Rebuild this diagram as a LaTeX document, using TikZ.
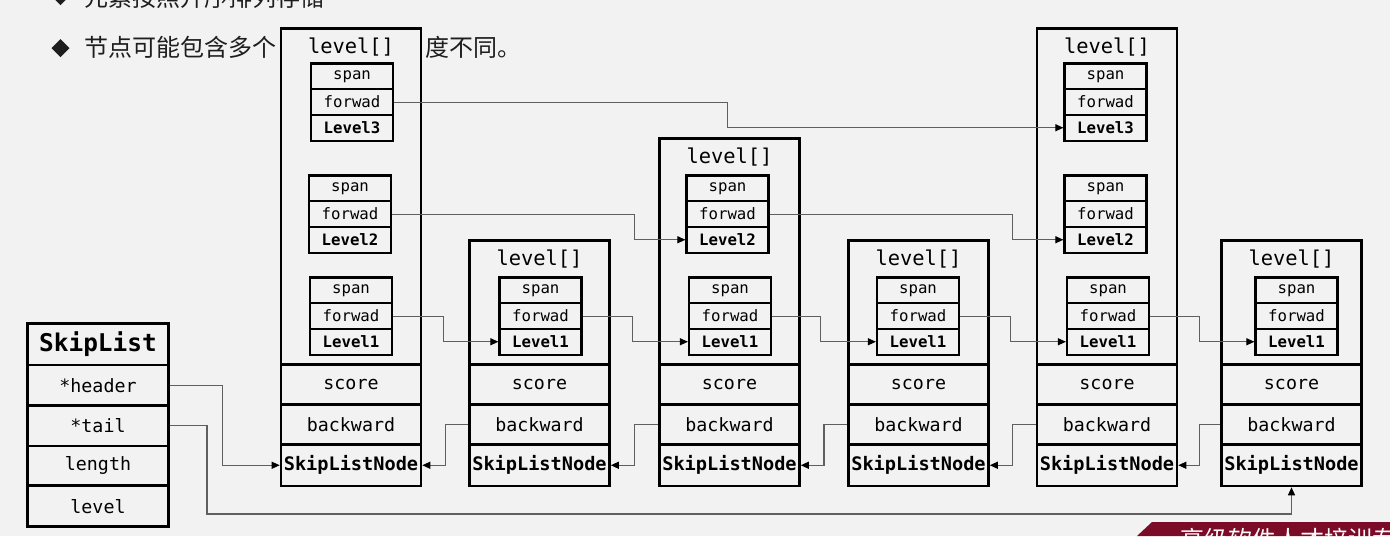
\documentclass[tikz,border=0pt]{standalone}
\usepackage{fontspec}
\newfontfamily\codefont{DejaVu Sans Mono}
\newfontfamily\cjk{Noto Sans CJK SC}
\usetikzlibrary{arrows.meta,calc}
\definecolor{slidebg}{RGB}{242,242,242}
\definecolor{linkgray}{RGB}{95,95,95}
\definecolor{textdark}{RGB}{30,30,30}
\definecolor{bannerred}{RGB}{122,12,40}

\begin{document}
\begin{tikzpicture}[x=1pt, y=-1pt,
    cell/.style = {draw, line width=2.6pt, fill=slidebg, inner sep=0pt, minimum width=140pt,
                   font=\codefont\fontsize{18.3}{20}\selectfont},
    namecell/.style = {cell, font=\codefont\bfseries\fontsize{18.6}{20}\selectfont},
    lvcell/.style = {draw, line width=2.2pt, fill=slidebg, inner sep=0pt, minimum width=82pt,
                     minimum height=25.7pt, font=\codefont\fontsize{15.7}{17}\selectfont},
    lvname/.style = {lvcell, font=\codefont\bfseries\fontsize{15.7}{17}\selectfont},
    cjktext/.style = {anchor=base west, inner sep=0pt, text=textdark, font=\cjk\fontsize{24}{26}\selectfont},
    link/.style = {draw=linkgray, line width=1.1pt, -{Triangle[length=8pt,width=7pt,color=black]}}]
    \useasboundingbox (0,0) rectangle (1390,536);
    \clip (0,0) rectangle (1390,536);
    \fill[slidebg] (0,0) rectangle (1390,536);

    % slide text behind the diagram
    \fill[textdark] (60.5,-13) -- (69.5,-4) -- (60.5,5) -- (51.5,-4) -- cycle;
    \node[cjktext] (line1) at (84,6.5) {元素按照升序排列存储};
    \fill[textdark] (60.5,39) -- (69.5,48) -- (60.5,57) -- (51.5,48) -- cycle;
    \node[cjktext] (line2a) at (84,56) {节点可能包含多个};
    \node[cjktext] (line2b) at (425,56) {度不同。};

    \fill[bannerred] (1137,536) -- (1152,522) -- (1390,522) -- (1390,536) -- cycle;
    \node[cjktext, text=white!92!pink] (brand) at (1180,548) {高级软件人才培训专家};

    % skiplist header
    \node[cell, minimum width=141.5pt, minimum height=41.7pt,
          font=\codefont\bfseries\fontsize{24.4}{26}\selectfont] (sl-title) at (98,344.2) {SkipList};
    \node[cell, minimum width=141.5pt, minimum height=40.7pt] (sl-head) at (98,385.4) {*header};
    \node[cell, minimum width=141.5pt, minimum height=40.3pt] (sl-tail) at (98,425.8) {*tail};
    \node[cell, minimum width=141.5pt, minimum height=39.7pt] (sl-len) at (98,465.8) {length};
    \node[cell, minimum width=141.5pt, minimum height=41pt] (sl-level) at (98,506.2) {level};

    % skiplist nodes
    \foreach \i/\cx/\yt in {1/351/27, 2/539.5/239, 3/729.5/137, 4/918.5/239, 5/1107/27, 6/1291.5/239} {
        \node[cell, minimum height={(364.5-\yt)*1pt}, anchor=north] (n\i-lvl) at (\cx,\yt) {};
        \node[inner sep=0pt, font=\codefont\fontsize{20.4}{22}\selectfont] (n\i-title) at (\cx,\yt+20) {level[]};
        \node[cell, minimum height=40pt] (n\i-score) at (\cx,384.5) {score};
        \node[cell, minimum height=40pt] (n\i-back) at (\cx,424.5) {backward};
        \node[namecell, minimum height=41.5pt] (n\i-node) at (\cx,465.25) {SkipListNode};
    }
    \foreach \i/\lx/\k/\yt in {1/352/3/63.5, 1/350/2/175.5, 1/351/1/277.5, 2/540.5/1/277.5,
                               3/727.5/2/175.5, 3/730/1/277.5, 4/918/1/277.5,
                               5/1105.5/3/63.5, 5/1105.5/2/175.5, 5/1108/1/277.5, 6/1296.5/1/277.5} {
        \node[lvcell] (n\i-s\k) at (\lx,\yt+12.85) {span};
        \node[lvcell] (n\i-f\k) at (\lx,\yt+38.55) {forwad};
        \node[lvname] (n\i-l\k) at (\lx,\yt+64.25) {Level\k};
    }

    % forward pointers
    \draw[link] (n1-f3.east) -| ([xshift=-336]n5-l3.west) -- (n5-l3.west);
    \draw[link] (n1-f2.east) -| ([xshift=-51]n3-l2.west) -- (n3-l2.west);
    \draw[link] (n3-f2.east) -| ([xshift=-51]n5-l2.west) -- (n5-l2.west);
    \foreach \a/\b in {1/2, 2/3, 3/4, 4/5, 5/6}
        \draw[link] (n\a-f1.east) -| ([xshift=-55]n\b-l1.west) -- (n\b-l1.west);

    % backward pointers
    \foreach \a/\b in {2/1, 3/2, 4/3, 5/4, 6/5}
        \draw[link] (n\a-back.west) -| ($(n\b-node.east)!.5!(n\a-node.west)$) -- (n\b-node.east);

    % header and tail
    \draw[link] (sl-head.east) -| ([xshift=-57]n1-node.west) -- (n1-node.west);
    \coordinate (tailturn) at (207,514);
    \draw[link] (sl-tail.east) -| (tailturn) -| (n6-node.south);
\end{tikzpicture}
\end{document}
